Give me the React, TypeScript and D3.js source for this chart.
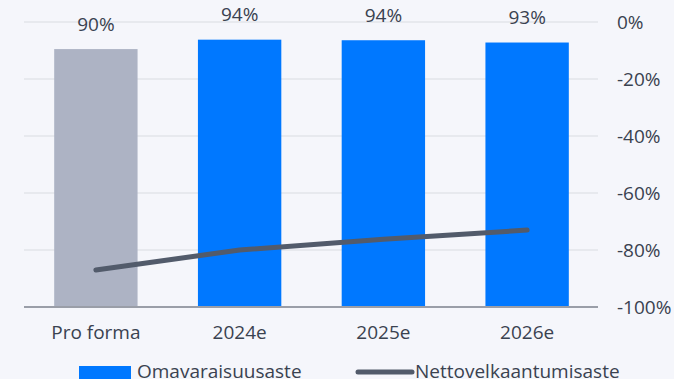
import React from "react";
import * as d3 from "d3";

const categories = ["Pro forma", "2024e", "2025e", "2026e"];
const equityRatio = [90.5, 93.8, 93.6, 92.8];
const equityLabels = ["90%", "94%", "94%", "93%"];
const gearing = [-87, -80, -76.2, -73];
const rightTicks = [0, -20, -40, -60, -80, -100];

const W = 674;
const H = 379;
const left = 24;
const right = 599;
const top = 22;
const bottom = 307;

export default function App() {
  const x = d3.scaleBand<string>().domain(categories).range([left, right]).paddingInner(0.42).paddingOuter(0.21);
  const yBar = d3.scaleLinear().domain([0, 100]).range([bottom, top]);
  const yLine = d3.scaleLinear().domain([-100, 0]).range([bottom, top]);
  const line = d3
    .line<number>()
    .x((_, i) => (x(categories[i]) as number) + x.bandwidth() / 2)
    .y((d) => yLine(d));
  const font = "'Open Sans', sans-serif";
  const textColor = "#3a4250";
  const fs = 19;
  return (
    <svg
      width={W}
      height={H}
      style={{ position: "absolute", left: 0, top: 0, display: "block", background: "#f5f6fb" }}
      fontFamily={font}
    >
      {rightTicks.map((t) => (
        <g key={t}>
          {t !== -100 && (
            <line x1={left} x2={right - 1} y1={yLine(t)} y2={yLine(t)} stroke="#e2e4ea" strokeWidth={1.5} />
          )}
          <text x={617} y={yLine(t)} dy="0.35em" fontSize={fs} fill={textColor}>
            {t + "%"}
          </text>
        </g>
      ))}
      {categories.map((c, i) => (
        <g key={c}>
          <rect
            x={x(c)}
            y={yBar(equityRatio[i])}
            width={x.bandwidth()}
            height={bottom - yBar(equityRatio[i])}
            fill={i === 0 ? "#adb3c4" : "#0078ff"}
          />
          <text
            x={(x(c) as number) + x.bandwidth() / 2}
            y={yBar(equityRatio[i]) - 25}
            dy="0.35em"
            textAnchor="middle"
            fontSize={fs}
            fill={textColor}
          >
            {equityLabels[i]}
          </text>
          <text
            x={(x(c) as number) + x.bandwidth() / 2}
            y={332}
            dy="0.35em"
            textAnchor="middle"
            fontSize={fs}
            fill={textColor}
          >
            {c}
          </text>
        </g>
      ))}
      <line x1={left} x2={right - 1} y1={bottom} y2={bottom} stroke="#9a9ea8" strokeWidth={2} />
      <path
        d={line(gearing) || ""}
        fill="none"
        stroke="#525b6b"
        strokeWidth={5}
        strokeLinecap="round"
        strokeLinejoin="round"
      />
      <rect x={79} y={366} width={52} height={14} fill="#0078ff" />
      <text x={137} y={371} dy="0.35em" fontSize={fs} fill={textColor}>
        Omavaraisuusaste
      </text>
      <line x1={358} x2={412} y1={372} y2={372} stroke="#525b6b" strokeWidth={5} strokeLinecap="round" />
      <text x={415} y={371} dy="0.35em" fontSize={fs} fill={textColor}>
        Nettovelkaantumisaste
      </text>
    </svg>
  );
}
